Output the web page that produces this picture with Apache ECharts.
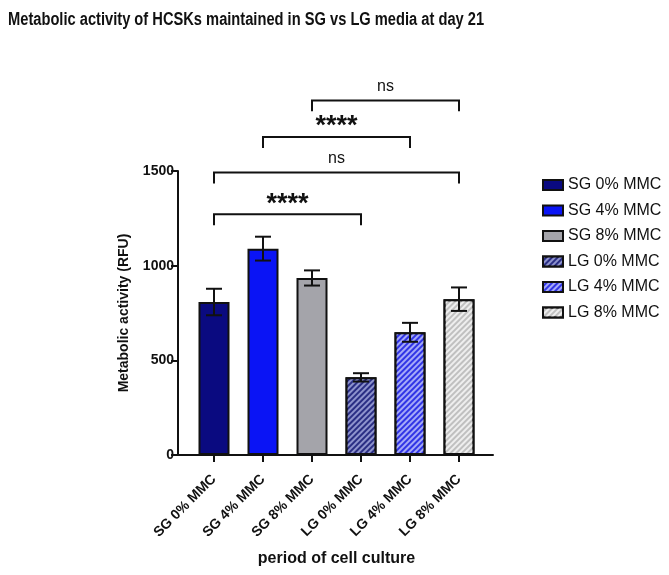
<!DOCTYPE html>
<html><head><meta charset="utf-8">
<script src="https://cdn.jsdelivr.net/npm/echarts@6/dist/echarts.min.js"></script>
<style>html,body{margin:0;padding:0;background:#fff}#c{width:669px;height:575px}</style>
</head><body><div id="c"></div>
<script>
const categories = ['SG 0% MMC','SG 4% MMC','SG 8% MMC','LG 0% MMC','LG 4% MMC','LG 8% MMC'];
const means = [808, 1090, 935, 410, 648, 823];
const errors = [70, 63, 40, 22, 50, 62];
const yTicks = [0, 500, 1000, 1500];
const bracketFrom = [0, 0, 1, 2];
const bracketTo = [3, 5, 4, 5];
const bracketY = [1272, 1492, 1680, 1873];
const bracketLabel = ['****', 'ns', '****', 'ns'];
const bracketDrop = 58;
const titleText = 'Metabolic activity of HCSKs maintained in SG vs LG media at day 21';

const fills = ['#0a0a80', '#0a14f5', '#a4a4aa', '#2a2e84', '#3034e6', '#c0c0c0'];
const stripe = [null, null, null, 'rgba(175,180,230,0.75)', 'rgba(215,220,255,0.7)', 'rgba(250,250,250,0.8)'];

const barSeries = categories.map((name, i) => {
  const s = {
    type: 'bar', name: name, xAxisIndex: 1, yAxisIndex: 1,
    barWidth: 31, barGap: '-100%',
    data: categories.map((c, j) => j === i ? means[i] : '-'),
    itemStyle: { color: fills[i], borderColor: '#111', borderWidth: 2 },
    z: 2
  };
  if (stripe[i]) {
    s.itemStyle.decal = { symbol: 'rect', color: stripe[i], dashArrayX: [1, 0], dashArrayY: [1.4, 2], rotation: -Math.PI / 4 };
  }
  return s;
});

const errSeries = {
  type: 'custom', xAxisIndex: 1, yAxisIndex: 1, z: 5, silent: true,
  data: means.map((m, i) => [i, m - errors[i], m + errors[i]]),
  renderItem: function (params, api) {
    const lo = api.coord([api.value(0), api.value(1)]);
    const hi = api.coord([api.value(0), api.value(2)]);
    const hw = 8;
    const st = { stroke: '#111', lineWidth: 2, fill: null };
    return { type: 'group', children: [
      { type: 'line', shape: { x1: lo[0], y1: lo[1], x2: hi[0], y2: hi[1] }, style: st },
      { type: 'line', shape: { x1: hi[0] - hw, y1: hi[1], x2: hi[0] + hw, y2: hi[1] }, style: st },
      { type: 'line', shape: { x1: lo[0] - hw, y1: lo[1], x2: lo[0] + hw, y2: lo[1] }, style: st }
    ]};
  }
};

const bracketSeries = {
  type: 'custom', xAxisIndex: 1, yAxisIndex: 1, z: 6, silent: true, clip: false,
  data: bracketFrom.map((f, i) => [f, bracketTo[i], bracketY[i], i]),
  renderItem: function (params, api) {
    const y = api.value(2);
    const a = api.coord([api.value(0), y]);
    const b = api.coord([api.value(1), y]);
    const d = api.coord([api.value(0), y - bracketDrop]);
    const lab = bracketLabel[api.value(3)];
    const stars = lab.indexOf('*') >= 0;
    return { type: 'group', children: [
      { type: 'polyline', shape: { points: [[a[0], d[1]], [a[0], a[1]], [b[0], a[1]], [b[0], d[1]]] },
        style: { stroke: '#111', lineWidth: 2, fill: null } },
      { type: 'text', style: { text: lab, x: (a[0] + b[0]) / 2, y: a[1] - (stars ? 10 : 14),
        align: 'center', verticalAlign: 'middle', fill: '#111',
        font: (stars ? 'bold 27px' : '16px') + ' "Liberation Sans", Arial, sans-serif' } }
    ]};
  }
};

const chart = echarts.init(document.getElementById('c'));
chart.setOption({
  animation: false,
  backgroundColor: '#fff',
  textStyle: { fontFamily: '"Liberation Sans", Arial, sans-serif' },
  graphic: [{
    type: 'text', x: 8, y: 20, scaleX: 0.815, silent: true,
    style: { text: titleText, fill: '#111', verticalAlign: 'middle',
      font: 'bold 18px "Liberation Sans", Arial, sans-serif' }
  }],
  legend: {
    orient: 'vertical', left: 537, top: 172, itemWidth: 20, itemHeight: 10, itemGap: 9.5,
    icon: 'rect',
    textStyle: { fontSize: 16, color: '#111', lineHeight: 14 },
    data: categories
  },
  grid: [
    { left: 178, right: 176, top: 171, bottom: 120 },
    { left: 189.5, right: 185.5, top: 171, bottom: 120 }
  ],
  xAxis: [
    { gridIndex: 0, type: 'category', data: categories,
      axisLine: { show: true, lineStyle: { color: '#111', width: 2 } },
      axisTick: { show: false }, axisLabel: { show: false } },
    { gridIndex: 1, type: 'category', data: categories,
      axisLine: { show: false },
      axisTick: { show: true, alignWithLabel: true, length: 7, lineStyle: { color: '#111', width: 2 } },
      axisLabel: { rotate: 45, fontSize: 14, fontWeight: 'bold', color: '#111', margin: 22, interval: 0 },
      name: 'period of cell culture', nameLocation: 'middle', nameGap: 96,
      nameTextStyle: { fontSize: 16, fontWeight: 'bold', color: '#111' } }
  ],
  yAxis: [
    { gridIndex: 0, type: 'value', min: yTicks[0], max: yTicks[yTicks.length - 1], interval: 500,
      axisLine: { show: true, lineStyle: { color: '#111', width: 2 } },
      axisTick: { show: true, length: 7, lineStyle: { color: '#111', width: 2 } },
      axisLabel: { fontSize: 14, fontWeight: 'bold', color: '#111', margin: 4, formatter: v => String(v) },
      splitLine: { show: false },
      name: 'Metabolic activity (RFU)', nameLocation: 'middle', nameGap: 47,
      nameTextStyle: { fontSize: 14, fontWeight: 'bold', color: '#111' } },
    { gridIndex: 1, type: 'value', min: yTicks[0], max: yTicks[yTicks.length - 1], show: false }
  ],
  series: barSeries.concat([errSeries, bracketSeries])
});
</script></body></html>
